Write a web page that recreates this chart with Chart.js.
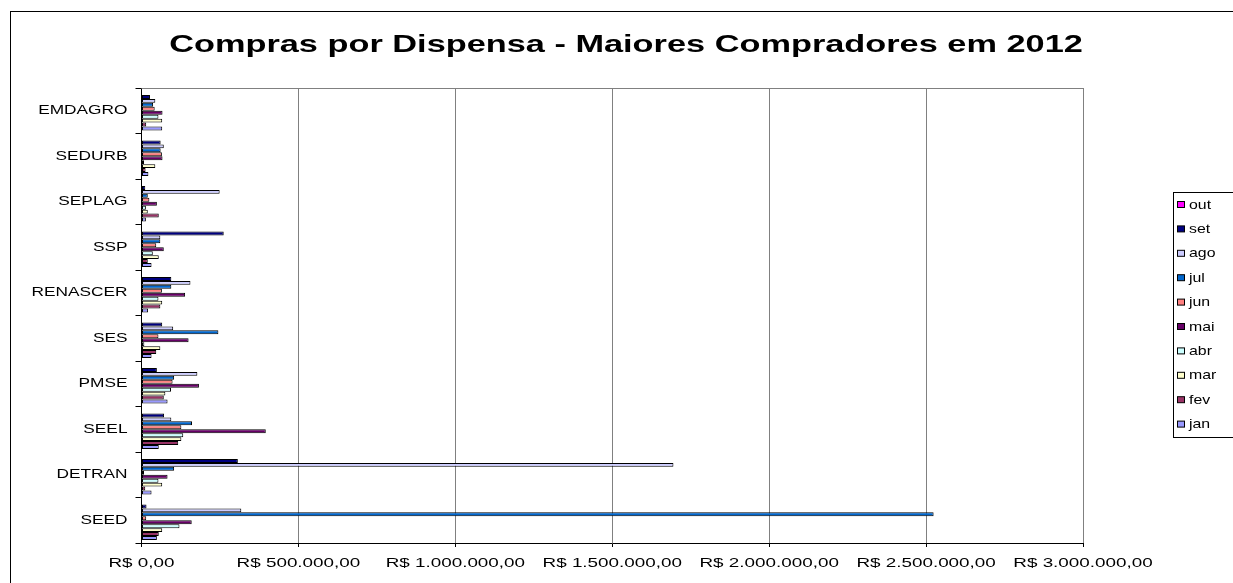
<!DOCTYPE html>
<html>
<head>
<meta charset="utf-8">
<script src="https://cdn.jsdelivr.net/npm/chart.js@4.4.0/dist/chart.umd.min.js"></script>
<style>
  html, body { margin: 0; padding: 0; background: #fff; }
  #wrap { width: 1233px; height: 583px; position: relative; }
</style>
</head>
<body>
<div id="wrap"><canvas id="chart"></canvas></div>
<script>
const chartTitle = "Compras por Dispensa - Maiores Compradores em 2012";
const categories = ["EMDAGRO", "SEDURB", "SEPLAG", "SSP", "RENASCER", "SES", "PMSE", "SEEL", "DETRAN", "SEED"];
const xTickLabels = ["R$ 0,00", "R$ 500.000,00", "R$ 1.000.000,00", "R$ 1.500.000,00", "R$ 2.000.000,00", "R$ 2.500.000,00", "R$ 3.000.000,00"];

// one array per month, same order as categories
const outValues = [0, 0, 0, 0, 0, 0, 0, 0, 0, 0];
const setValues = [27000, 61000, 12000, 262000, 95000, 66000, 49000, 72000, 307000, 16000];
const agoValues = [44000, 71000, 249000, 60000, 156000, 101000, 178000, 95000, 1695000, 318000];
const julValues = [37000, 61000, 20000, 60000, 95000, 245000, 104000, 161000, 104000, 2524000];
const junValues = [42000, 65000, 25000, 47000, 65000, 54000, 99000, 127000, 8000, 15000];
const maiValues = [67000, 67000, 49000, 71000, 139000, 150000, 183000, 396000, 83000, 160000];
const abrValues = [54000, 8000, 14000, 36000, 54000, 9000, 94000, 133000, 54000, 121000];
const marValues = [66000, 44000, 20000, 55000, 66000, 60000, 76000, 127000, 66000, 66000];
const fevValues = [15000, 13000, 55000, 20000, 60000, 47000, 71000, 117000, 12000, 55000];
const janValues = [66000, 22000, 14000, 32000, 21000, 32000, 83000, 55000, 32000, 49000];

const seriesNames = ["out", "set", "ago", "jul", "jun", "mai", "abr", "mar", "fev", "jan"];
const seriesValues = [outValues, setValues, agoValues, julValues, junValues, maiValues, abrValues, marValues, fevValues, janValues];
const seriesColors = ["#FF00FF", "#000080", "#CCCCFF", "#0066CC", "#FF8080", "#660066", "#CCFFFF", "#FFFFCC", "#993366", "#9999FF"];

const FONT = "'Liberation Sans', Arial, sans-serif";
const nativeFillText = CanvasRenderingContext2D.prototype.fillText;

// text stretched sideways around its anchor, like the old Excel export
function wideText(ctx, text, x, y, sx) {
  ctx.save();
  ctx.translate(x, y);
  ctx.scale(sx, 1);
  nativeFillText.call(ctx, text, 0, 0);
  ctx.restore();
}

// title, outer frame, plot top border and legend box (Excel style)
const excelFrame = {
  id: "excelFrame",
  beforeDraw(chart) {
    const ctx = chart.ctx;
    ctx.save();
    ctx.fillStyle = "#fff";
    ctx.fillRect(0, 0, chart.width, chart.height);
    ctx.restore();
    // axis labels go through the same stretch
    ctx.fillText = function (text, x, y) {
      wideText(this, text, x, y, this.textAlign === "right" ? 1.33 : 1.45);
    };
  },
  afterDraw(chart) {
    const { ctx, chartArea } = chart;
    delete ctx.fillText;
    ctx.save();

    // outer chart border
    ctx.strokeStyle = "#000";
    ctx.lineWidth = 1;
    ctx.strokeRect(10.5, 11.5, chart.width + 10, chart.height + 10);

    // plot area top edge
    ctx.strokeStyle = "#808080";
    ctx.beginPath();
    ctx.moveTo(chartArea.left, Math.round(chartArea.top) + 0.5);
    ctx.lineTo(chartArea.right, Math.round(chartArea.top) + 0.5);
    ctx.stroke();

    // title
    ctx.fillStyle = "#000";
    ctx.font = "bold 24px " + FONT;
    ctx.textAlign = "center";
    ctx.textBaseline = "alphabetic";
    wideText(ctx, chartTitle, 626, 52, 1.43);

    // legend
    ctx.strokeStyle = "#000";
    ctx.strokeRect(1173.5, 192.5, 80, 245);
    ctx.font = "13px " + FONT;
    ctx.textAlign = "left";
    ctx.textBaseline = "middle";
    chart.data.datasets.forEach((ds, i) => {
      const y = 205 + i * 24.4;
      ctx.fillStyle = ds.backgroundColor;
      ctx.fillRect(1177.5, y - 3.5, 7, 6);
      ctx.strokeStyle = "#000";
      ctx.strokeRect(1177.5, y - 3.5, 7, 6);
      ctx.fillStyle = "#000";
      wideText(ctx, ds.label, 1189, y, 1.22);
    });

    ctx.restore();
  }
};

new Chart(document.getElementById("chart"), {
  type: "bar",
  data: {
    labels: categories,
    datasets: seriesNames.map((name, i) => ({
      label: name,
      data: seriesValues[i],
      backgroundColor: seriesColors[i],
      borderColor: "#000",
      borderWidth: 1,
      borderSkipped: false,
      categoryPercentage: 10 / 11.5,
      barPercentage: 1
    }))
  },
  options: {
    indexAxis: "y",
    responsive: true,
    maintainAspectRatio: false,
    animation: false,
    layout: {
      padding: { left: 10, right: 150, top: 88, bottom: 0 }
    },
    plugins: {
      legend: { display: false },
      title: { display: false },
      tooltip: { enabled: false }
    },
    scales: {
      x: {
        min: 0,
        max: 3000000,
        afterFit: (scale) => { scale.height = 40; },
        ticks: {
          stepSize: 500000,
          color: "#000",
          padding: 9,
          maxRotation: 0,
          autoSkip: false,
          font: { family: FONT, size: 13 },
          callback: (value) => xTickLabels[Math.round(value / 500000)]
        },
        grid: {
          color: "#808080",
          tickColor: "#000",
          tickLength: 4
        },
        border: { color: "#000" }
      },
      y: {
        afterFit: (scale) => { scale.width = 131.5; },
        ticks: {
          color: "#000",
          padding: 8,
          font: { family: FONT, size: 13 }
        },
        grid: {
          drawOnChartArea: false,
          offset: true,
          color: "#000",
          tickLength: 6
        },
        border: { color: "#000" }
      }
    }
  },
  plugins: [excelFrame]
});
</script>
</body>
</html>
